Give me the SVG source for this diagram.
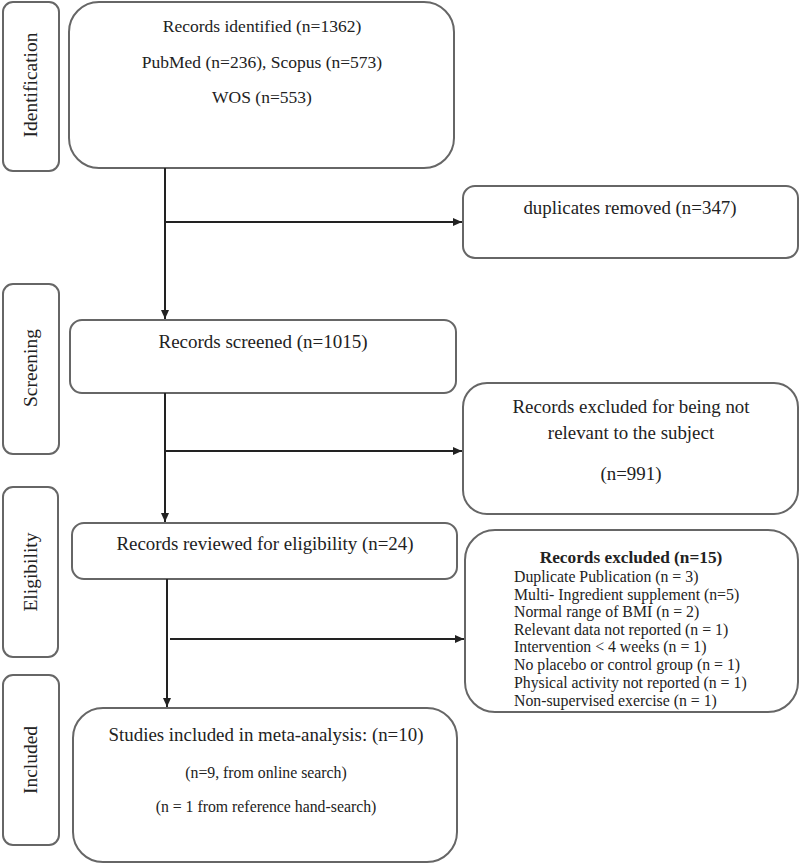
<svg xmlns="http://www.w3.org/2000/svg" width="800" height="864" viewBox="0 0 800 864">
<defs>
<style>
.box{fill:#fff;stroke:#666;stroke-width:2}
.t{font-family:"Liberation Serif","Times New Roman",serif;fill:#222;text-anchor:middle}
.s{font-family:"Liberation Serif","Times New Roman",serif;fill:#222;text-anchor:middle;font-size:19.5px}
.l{font-family:"Liberation Serif","Times New Roman",serif;fill:#222;font-size:15.8px}
.c{stroke:#222;stroke-width:2;fill:none}
</style>
<marker id="ah" markerWidth="10" markerHeight="10" refX="9" refY="5" orient="auto" markerUnits="userSpaceOnUse">
<path d="M0,1 L9,5 L0,9 Z" fill="#222"/>
</marker>
</defs>
<rect width="800" height="864" fill="#fff"/>
<g id="stage-identification">
<rect class="box" x="3" y="2" width="56" height="169" rx="10"/>
<text class="s" transform="translate(37,85) rotate(-90)">Identification</text>
</g>
<g id="stage-screening">
<rect class="box" x="3" y="284" width="56" height="170" rx="10"/>
<text class="s" transform="translate(37,368) rotate(-90)">Screening</text>
</g>
<g id="stage-eligibility">
<rect class="box" x="3" y="487" width="55" height="170" rx="10"/>
<text class="s" transform="translate(37,572) rotate(-90)">Eligibility</text>
</g>
<g id="stage-included">
<rect class="box" x="3" y="675" width="56" height="170" rx="10"/>
<text class="s" transform="translate(37,760) rotate(-90)">Included</text>
</g>
<g id="identified">
<rect class="box" x="69" y="2" width="385" height="166" rx="30"/>
<text class="t" font-size="17.5" x="262" y="32">Records identified (n=1362)</text>
<text class="t" font-size="17.5" x="262" y="68">PubMed (n=236), Scopus (n=573)</text>
<text class="t" font-size="17.5" x="262" y="103">WOS (n=553)</text>
</g>
<g id="duplicates">
<rect class="box" x="463" y="186" width="335" height="72" rx="12"/>
<text class="t" font-size="18.9" x="630" y="214">duplicates removed (n=347)</text>
</g>
<g id="screened">
<rect class="box" x="70" y="320" width="386" height="73" rx="12"/>
<text class="t" font-size="19" x="263" y="348">Records screened (n=1015)</text>
</g>
<g id="excluded-relevance">
<rect class="box" x="463" y="383" width="335" height="131" rx="24"/>
<text class="t" font-size="18.9" x="631" y="413">Records excluded for being not</text>
<text class="t" font-size="18.9" x="631" y="439">relevant to the subject</text>
<text class="t" font-size="18.9" x="631" y="480">(n=991)</text>
</g>
<g id="reviewed">
<rect class="box" x="72" y="523" width="385" height="56" rx="12"/>
<text class="t" font-size="18.9" x="265" y="550">Records reviewed for eligibility (n=24)</text>
</g>
<g id="excluded-15">
<rect class="box" x="465" y="530" width="333" height="182" rx="30"/>
<text class="t" font-size="17.3" font-weight="bold" x="631" y="563">Records excluded (n=15)</text>
<text class="l" x="514" y="582">Duplicate Publication (n = 3)</text>
<text class="l" x="514" y="600">Multi- Ingredient supplement (n=5)</text>
<text class="l" x="514" y="617">Normal range of BMI (n = 2)</text>
<text class="l" x="514" y="635">Relevant data not reported (n = 1)</text>
<text class="l" x="514" y="652">Intervention &lt; 4 weeks (n = 1)</text>
<text class="l" x="514" y="670">No placebo or control group (n = 1)</text>
<text class="l" x="514" y="688">Physical activity not reported (n = 1)</text>
<text class="l" x="514" y="706">Non-supervised exercise (n = 1)</text>
</g>
<g id="included">
<rect class="box" x="73" y="708" width="384" height="154" rx="30"/>
<text class="t" font-size="18.9" x="266" y="741">Studies included in meta-analysis: (n=10)</text>
<text class="t" font-size="15.8" x="266" y="778">(n=9, from online search)</text>
<text class="t" font-size="15.8" x="266" y="812">(n = 1 from reference hand-search)</text>
</g>
<g id="connectors">
<path class="c" d="M165,168 V319" marker-end="url(#ah)"/>
<path class="c" d="M165,222 H462" marker-end="url(#ah)"/>
<path class="c" d="M165,393 V522" marker-end="url(#ah)"/>
<path class="c" d="M165,451 H462" marker-end="url(#ah)"/>
<path class="c" d="M167,579 V707" marker-end="url(#ah)"/>
<path class="c" d="M170,639 H464" marker-end="url(#ah)"/>
</g>
</svg>
